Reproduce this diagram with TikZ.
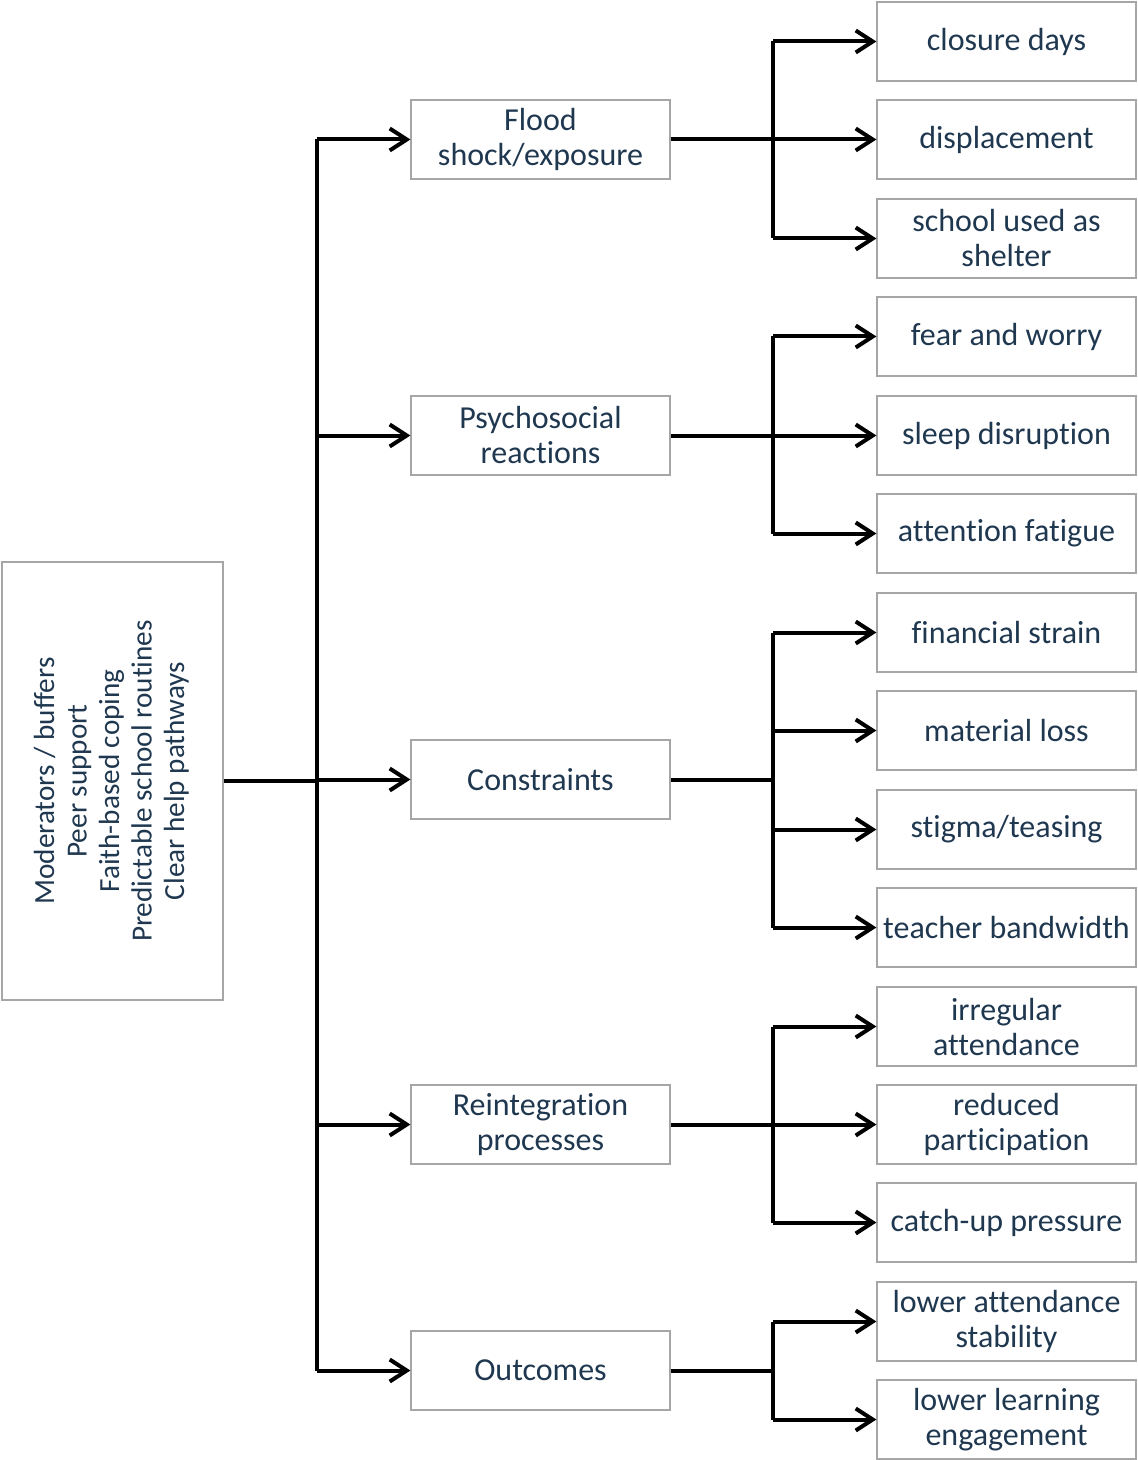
\documentclass[tikz,border=0pt]{standalone}
\usepackage{fontspec}
\setmainfont{Carlito}[Ligatures=NoCommon]
\usetikzlibrary{arrows.meta}
\definecolor{inknavy}{HTML}{1F3850}
\definecolor{boxgray}{HTML}{A6A6A6}
\tikzset{
  box/.style={rectangle, draw=boxgray, line width=0.6pt, text=inknavy, align=center,
    font=\fontsize{16}{17.5}\selectfont, inner sep=0pt},
  midbox/.style={box, minimum width=129.5pt, minimum height=39.5pt},
  leafbox/.style={box, minimum width=129.5pt, minimum height=39.5pt},
  link/.style={line width=2pt, draw=black},
  arrow/.style={link, -{Straight Barb[length=8.5pt, width=11pt, line width=2pt]}}
}
\begin{document}
\begin{tikzpicture}[x=0.5pt, y=-0.5pt]
        \useasboundingbox (0,0) rectangle (1137,1460);

        % moderators on the left
        \node[box, font=\fontsize{14.6}{16.25}\selectfont, minimum width=110.5pt, minimum height=219pt] (mods) at (112.5,781)
          {\rotatebox{90}{\begin{tabular}{@{}c@{}}Moderators / buffers\\Peer support\\Faith-based coping\\Predictable school routines\\Clear help pathways\end{tabular}}};

        % middle column
        \node[midbox] (flood) at (540.5,139.5) {Flood\\shock/exposure};
        \node[midbox] (psych) at (540.5,435.5) {Psychosocial\\reactions};
        \node[midbox] (constr) at (540.5,779.5) {Constraints};
        \node[midbox] (reint) at (540.5,1124.5) {Reintegration\\processes};
        \node[midbox] (outc) at (540.5,1370.5) {Outcomes};

        % right column
        \node[leafbox] (closure) at (1006.5,41.5) {closure days};
        \node[leafbox] (displ) at (1006.5,139.5) {displacement};
        \node[leafbox] (shelter) at (1006.5,238.5) {school used as\\shelter};
        \node[leafbox] (fear) at (1006.5,336.5) {fear and worry};
        \node[leafbox] (sleep) at (1006.5,435.5) {sleep disruption};
        \node[leafbox] (fatigue) at (1006.5,533.5) {attention fatigue};
        \node[leafbox] (finance) at (1006.5,632.5) {financial strain};
        \node[leafbox] (matloss) at (1006.5,730.5) {material loss};
        \node[leafbox] (stigma) at (1006.5,829.5) {stigma/teasing};
        \node[leafbox] (teacher) at (1006.5,927.5) {teacher bandwidth};
        \node[leafbox] (irreg) at (1006.5,1026.5) {irregular\\attendance};
        \node[leafbox] (partic) at (1006.5,1124.5) {reduced\\participation};
        \node[leafbox] (catchup) at (1006.5,1222.5) {catch-up pressure};
        \node[leafbox] (stabil) at (1006.5,1321.5) {lower attendance\\stability};
        \node[leafbox] (engage) at (1006.5,1419.5) {lower learning\\engagement};

        % trunk and forks
        \coordinate (trunk) at (317,781);
        \coordinate (fkflood) at (773,139.5);
        \coordinate (fkpsych) at (773,435.5);
        \coordinate (fkconstr) at (773,779.5);
        \coordinate (fkreint) at (773,1124.5);
        \coordinate (fkoutc) at (773,1370.5);

        \draw[link] (mods.east |- trunk) -- (trunk);
        \draw[link] (trunk |- flood) -- (trunk |- outc);
        \draw[arrow] (trunk |- flood) -- (flood);
        \draw[arrow] (trunk |- psych) -- (psych);
        \draw[arrow] (trunk |- constr) -- (constr);
        \draw[arrow] (trunk |- reint) -- (reint);
        \draw[arrow] (trunk |- outc) -- (outc);

        \draw[link] (flood) -- (fkflood);
        \draw[link] (fkflood |- closure) -- (fkflood |- shelter);
        \draw[arrow] (fkflood |- closure) -- (closure);
        \draw[arrow] (fkflood) -- (displ);
        \draw[arrow] (fkflood |- shelter) -- (shelter);

        \draw[link] (psych) -- (fkpsych);
        \draw[link] (fkpsych |- fear) -- (fkpsych |- fatigue);
        \draw[arrow] (fkpsych |- fear) -- (fear);
        \draw[arrow] (fkpsych) -- (sleep);
        \draw[arrow] (fkpsych |- fatigue) -- (fatigue);

        \draw[link] (constr) -- (fkconstr);
        \draw[link] (fkconstr |- finance) -- (fkconstr |- teacher);
        \draw[arrow] (fkconstr |- finance) -- (finance);
        \draw[arrow] (fkconstr |- matloss) -- (matloss);
        \draw[arrow] (fkconstr |- stigma) -- (stigma);
        \draw[arrow] (fkconstr |- teacher) -- (teacher);

        \draw[link] (reint) -- (fkreint);
        \draw[link] (fkreint |- irreg) -- (fkreint |- catchup);
        \draw[arrow] (fkreint |- irreg) -- (irreg);
        \draw[arrow] (fkreint) -- (partic);
        \draw[arrow] (fkreint |- catchup) -- (catchup);

        \draw[link] (outc) -- (fkoutc);
        \draw[link] (fkoutc |- stabil) -- (fkoutc |- engage);
        \draw[arrow] (fkoutc |- stabil) -- (stabil);
        \draw[arrow] (fkoutc |- engage) -- (engage);
      \end{tikzpicture}
\end{document}
